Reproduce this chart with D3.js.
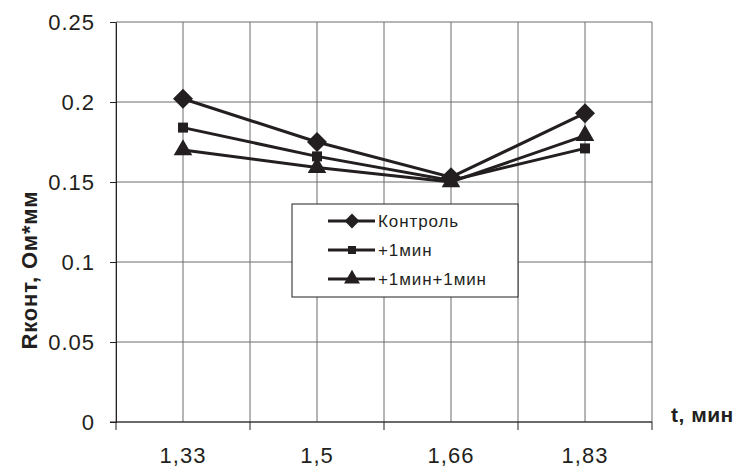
<!DOCTYPE html>
<html>
<head>
<meta charset="utf-8">
<script src="https://cdn.jsdelivr.net/npm/d3@7"></script>
<style>
  body { margin: 0; background: #fff; }
  text { font-family: "Liberation Sans", Arial, sans-serif; fill: #231f20; }
</style>
</head>
<body>
<div id="chart"></div>
<script>
// datos del grafico
const categorias = ["1,33", "1,5", "1,66", "1,83"];
const control = [0.202, 0.175, 0.153, 0.193];
const mas1 = [0.184, 0.166, 0.151, 0.171];
const mas1mas1 = [0.170, 0.159, 0.150, 0.179];
const yTicks = [0, 0.05, 0.1, 0.15, 0.2, 0.25];

const series = [
  { nombre: "Контроль", valores: control, simbolo: d3.symbolSquare, tam: 200, rot: 45, tamLey: 110 },
  { nombre: "+1мин", valores: mas1, simbolo: d3.symbolSquare, tam: 100, rot: 0, tamLey: 64 },
  { nombre: "+1мин+1мин", valores: mas1mas1, simbolo: d3.symbolTriangle, tam: 150, rot: 0, tamLey: 110 }
];

const W = 737, H = 472;
const margin = { top: 22, right: 85, bottom: 50, left: 116 };
const ancho = W - margin.left - margin.right;
const alto = H - margin.top - margin.bottom;
const tinta = "#231f20";

const svg = d3.select("#chart").append("svg")
  .attr("width", W)
  .attr("height", H);

const g = svg.append("g")
  .attr("transform", `translate(${margin.left},${margin.top})`);

// escalas
const x = d3.scaleBand().domain(categorias).range([0, ancho]);
const y = d3.scaleLinear().domain([0, 0.25]).range([alto, 0]);

// rejilla horizontal
g.selectAll(".hgrid").data(yTicks).enter().append("line")
  .attr("x1", 0).attr("x2", ancho)
  .attr("y1", d => y(d)).attr("y2", d => y(d))
  .attr("stroke", "#6d6d6d").attr("stroke-width", 1);

// rejilla vertical (centros y limites de categoria)
const bordes = categorias.map(c => x(c)).concat([ancho]);
const centros = categorias.map(c => x(c) + x.bandwidth() / 2);
g.selectAll(".vgrid").data(bordes.concat(centros)).enter().append("line")
  .attr("x1", d => d).attr("x2", d => d)
  .attr("y1", 0).attr("y2", alto)
  .attr("stroke", "#6d6d6d").attr("stroke-width", 1);

// eje Y
const yAxis = g.append("g")
  .call(d3.axisLeft(y).tickValues(yTicks).tickSize(6).tickSizeOuter(0).tickPadding(15)
    .tickFormat(d => d === 0 ? "0" : String(+d.toFixed(2))));
yAxis.select(".domain").attr("stroke", tinta);
yAxis.selectAll(".tick line").attr("stroke", tinta);
yAxis.selectAll("text").style("font-size", "22px").style("letter-spacing", "1px")
  .attr("fill", tinta).attr("dy", "0.36em");

// eje X
const xAxis = g.append("g").attr("transform", `translate(0,${alto})`);
xAxis.append("line").attr("x1", -6).attr("x2", ancho)
  .attr("stroke", tinta);
xAxis.selectAll(".xt").data(bordes).enter().append("line")
  .attr("x1", d => d).attr("x2", d => d)
  .attr("y1", 0).attr("y2", 8).attr("stroke", tinta);
xAxis.selectAll(".xl").data(categorias).enter().append("text")
  .attr("x", d => x(d) + x.bandwidth() / 2)
  .attr("y", 41)
  .attr("text-anchor", "middle")
  .style("font-size", "22px")
  .style("letter-spacing", "1px")
  .text(d => d);

// titulos
svg.append("text")
  .attr("x", 671).attr("y", 422)
  .style("font-size", "21px").style("font-weight", "bold")
  .style("letter-spacing", "0.5px")
  .text("t, мин");

svg.append("text")
  .attr("transform", `translate(37,270) rotate(-90)`)
  .attr("text-anchor", "middle")
  .style("font-size", "22px").style("font-weight", "bold")
  .style("letter-spacing", "0.8px")
  .text("Rконт, Ом*мм");

// lineas
const linea = d3.line()
  .x((d, i) => x(categorias[i]) + x.bandwidth() / 2)
  .y(d => y(d));

series.forEach(s => {
  g.append("path").datum(s.valores)
    .attr("d", linea)
    .attr("fill", "none")
    .attr("stroke", tinta)
    .attr("stroke-width", 3);
  g.selectAll(null).data(s.valores).enter().append("path")
    .attr("transform", (d, i) => `translate(${x(categorias[i]) + x.bandwidth() / 2},${y(d)}) rotate(${s.rot})`)
    .attr("d", d3.symbol().type(s.simbolo).size(s.tam))
    .attr("fill", tinta);
});

// leyenda
const ley = svg.append("g").attr("transform", "translate(292,204)");
ley.append("rect")
  .attr("width", 226).attr("height", 93)
  .attr("fill", "#fff").attr("stroke", tinta).attr("stroke-width", 1);
series.forEach((s, i) => {
  const fy = 17 + i * 29;
  ley.append("line").attr("x1", 36).attr("x2", 83)
    .attr("y1", fy).attr("y2", fy)
    .attr("stroke", tinta).attr("stroke-width", 3);
  ley.append("path")
    .attr("transform", `translate(60,${fy}) rotate(${s.rot})`)
    .attr("d", d3.symbol().type(s.simbolo).size(s.tamLey))
    .attr("fill", tinta);
  ley.append("text")
    .attr("x", 86).attr("y", fy + 6)
    .style("font-size", "17px")
    .style("letter-spacing", "0.9px")
    .text(s.nombre);
});
</script>
</body>
</html>
